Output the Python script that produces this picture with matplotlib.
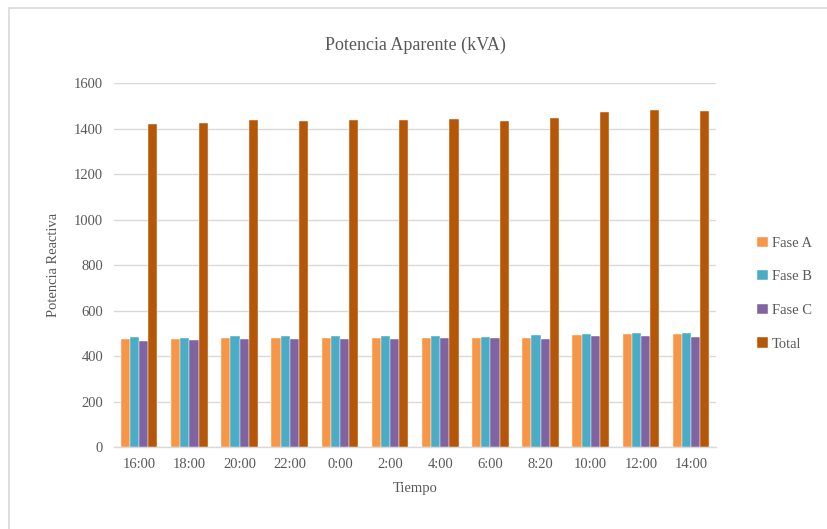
import matplotlib.pyplot as plt
import numpy as np
from matplotlib.patches import Rectangle

plt.rcParams['font.family'] = ['Liberation Serif', 'DejaVu Serif']

horas = ['16:00', '18:00', '20:00', '22:00', '0:00', '2:00', '4:00', '6:00',
         '8:20', '10:00', '12:00', '14:00']
fase_a = [475, 475, 480, 478, 479, 479, 480, 478, 481, 491, 495, 495]
fase_b = [482, 480, 488, 488, 488, 488, 486, 483, 491, 497, 501, 499]
fase_c = [464, 469, 473, 473, 474, 474, 478, 478, 473, 488, 488, 483]
total = [1420, 1423, 1437, 1435, 1437, 1437, 1441, 1435, 1445, 1473, 1480, 1476]

series = [('Fase A', fase_a, '#F79646'),
          ('Fase B', fase_b, '#4BACC6'),
          ('Fase C', fase_c, '#8064A2'),
          ('Total', total, '#B65708')]

fig = plt.figure(figsize=(8.27, 5.29), dpi=100)
ax = fig.add_axes([0.138, 0.155, 0.728, 0.688])

# borde del grafico
fig.patches.append(Rectangle((0.011, -0.01), 1.0, 0.995, transform=fig.transFigure,
                             fill=False, edgecolor='#D9D9D9', linewidth=1.2))

x = np.arange(len(horas))
w = 0.182
for i, (name, vals, col) in enumerate(series):
    ax.bar(x + (i - 1.5) * w, vals, w, color=col, label=name,
           edgecolor='white', linewidth=0.3, zorder=3)

ax.set_ylim(0, 1600)
ax.set_xlim(-0.5, len(horas) - 0.5)
ax.set_yticks(np.arange(0, 1601, 200))
ax.set_xticks(x)
ax.set_xticklabels(horas)
ax.grid(axis='y', color='#D9D9D9', linewidth=1.0, zorder=0)
ax.tick_params(length=0, labelsize=10.5, colors='#595959', pad=8)
for s in ['top', 'right', 'left']:
    ax.spines[s].set_visible(False)
ax.spines['bottom'].set_color('#D9D9D9')
ax.spines['bottom'].set_linewidth(1.0)

ax.set_title('Potencia Aparente (kVA)', fontsize=13, color='#595959', pad=24)
ax.set_ylabel('Potencia Reactiva', fontsize=10.5, color='#595959', labelpad=10)
ax.set_xlabel('Tiempo', fontsize=10.5, color='#595959', labelpad=8)

fig.legend(loc='center left', bbox_to_anchor=(0.9, 0.445), frameon=False,
           fontsize=10.5, labelcolor='#595959', handlelength=0.7,
           handleheight=0.7, handletextpad=0.3, labelspacing=1.4)

fig.savefig('out.png', dpi=100)
